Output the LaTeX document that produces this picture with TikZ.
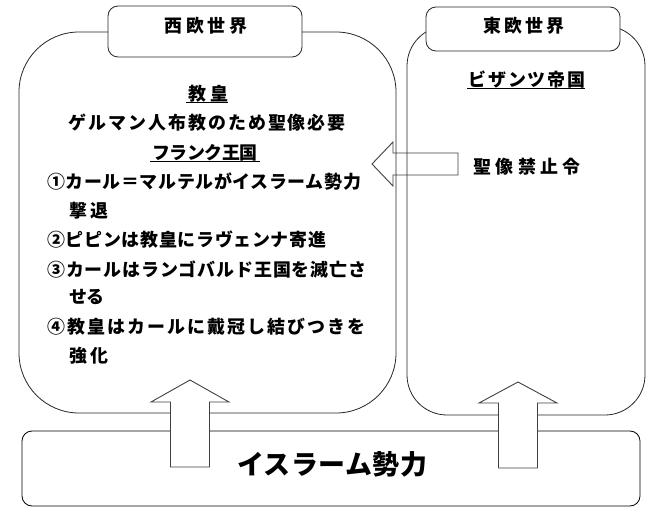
\documentclass[tikz,border=0pt]{standalone}
\usepackage{fontspec}
\setmainfont{Noto Sans CJK JP}
\begin{document}
\begin{tikzpicture}[x=1bp,y=-1bp,
  bigbox/.style={draw=black!85, line width=0.8bp, inner sep=0, fill=none},
  titlebox/.style={draw=black!85, line width=0.8bp, fill=white, rounded corners=10bp, inner sep=0},
  blockarrow/.style={draw=black!75, line width=0.9bp, fill=white, line join=miter},
  txt/.style={inner sep=0, font=\bfseries\fontsize{18}{20}\selectfont\addfontfeatures{LetterSpace=#1}},
  txt/.default=10,
  big/.style={inner sep=0, font=\bfseries\fontsize{27}{30}\selectfont\addfontfeatures{LetterSpace=2}},
  uline/.style={line width=1bp}]
\useasboundingbox (0,0) rectangle (648,513);
% left block arrow (behind the boxes)
\draw[blockarrow] (458,153) -- (393,153) -- (393,142) -- (372,164) -- (393,186) -- (393,175) -- (458,175) -- cycle;
% big boxes
\node[bigbox, rounded corners=60bp, minimum width=377bp, minimum height=381bp] (west) at (207.5,222.5) {};
\node[bigbox, rounded corners=40bp, minimum width=238bp, minimum height=389bp] (east) at (526,220.5) {};
\node[bigbox, draw=black, rounded corners=10bp, minimum width=618bp, minimum height=75bp] (islam) at (331,468.5) {};
% title boxes
\node[titlebox, minimum width=194bp, minimum height=51bp] (wtitle) at (205,31.5) {};
\node[titlebox, minimum width=194bp, minimum height=44bp] (etitle) at (523,29) {};
\node[txt=20] (wt) at (206,26) {西欧世界};
\node[txt=18] (et) at (524,25.5) {東欧世界};
% west text
\node[txt=24] (kyo) at (208.5,94) {教皇};
\draw[uline] ([xshift=-2bp]kyo.south west) -- ([xshift=-0.5bp]kyo.south east);
\node[txt=11.5] (ger) at (207,123) {ゲルマン人布教のため聖像必要};
\node[txt=-3] (fra) at (205,153) {フランク王国};
\draw[uline] ([xshift=-2bp]fra.south west) -- ([xshift=2.5bp]fra.south east);
\node[txt=3.5, anchor=west] (l1) at (47,182) {①カール＝マルテルがイスラーム勢力};
\node[txt=17, anchor=west] (l1b) at (69,211) {撃退};
\node[txt=4, anchor=west] (l2) at (47,240) {②ピピンは教皇にラヴェンナ寄進};
\node[txt=5, anchor=west] (l3) at (47,270) {③カールはランゴバルド王国を滅亡さ};
\node[txt=-4, anchor=west] (l3b) at (69,297) {せる};
\node[txt=11.8, anchor=west] (l4) at (47,327) {④教皇はカールに戴冠し結びつきを};
\node[txt=17, anchor=west] (l4b) at (69,356) {強化};
% east text
\node[txt=10] (byz) at (527,79.5) {ビザンツ帝国};
\draw[uline] ([xshift=-1.5bp]byz.south west) -- ([xshift=0bp]byz.south east);
\node[txt=24] (ban) at (527,167) {聖像禁止令};
% islam text
\node[big] (isl) at (332,464.5) {イスラーム勢力};
% up block arrows
\draw[blockarrow] (170.5,467) -- (170.5,402) -- (151,402) -- (190,380) -- (229,402) -- (209.5,402) -- (209.5,467) -- cycle;
\draw[blockarrow] (498.5,468) -- (498.5,403) -- (479,403) -- (518,382) -- (557,403) -- (537.5,403) -- (537.5,468) -- cycle;
\end{tikzpicture}
\end{document}
